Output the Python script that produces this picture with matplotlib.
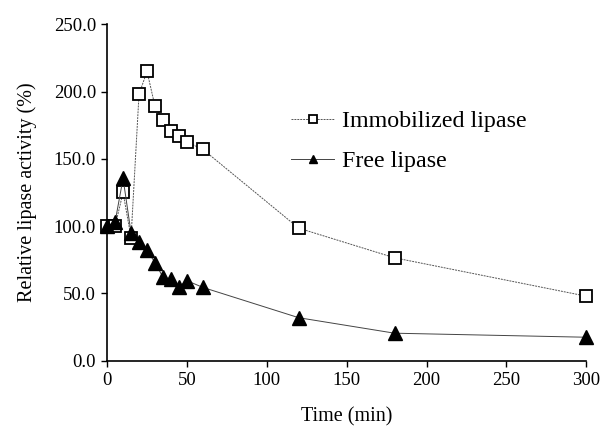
import matplotlib
matplotlib.use("Agg")
from matplotlib import pyplot as plt

time_min = [0, 5, 10, 15, 20, 25, 30, 35, 40, 45, 50, 60, 120, 180, 300]
immobilized = [100, 100, 125, 91.5, 198, 215, 189, 178.5, 171, 167, 162.5, 157, 98.5, 76.5, 48]
free = [100, 103, 135.5, 95, 88, 82, 73, 62, 60.5, 55, 59.5, 54.5, 32, 20.5, 17.5]

y_ticks = [0, 50, 100, 150, 200, 250]
x_ticks = [0, 50, 100, 150, 200, 250, 300]

plt.rcParams["font.family"] = ["Liberation Serif", "DejaVu Serif"]

fig = plt.figure(figsize=(6.05, 4.4), dpi=100)
ax = fig.add_axes([0.177, 0.18, 0.792, 0.765])

ax.plot(time_min, immobilized, color="#555555", linewidth=0.7, linestyle=(0, (2, 1)),
        marker="s", markersize=8.5, markerfacecolor="white", markeredgecolor="black",
        markeredgewidth=1.3, label="Immobilized lipase")
ax.plot(time_min, free, color="#444444", linewidth=0.7,
        marker="^", markersize=10, markerfacecolor="black", markeredgecolor="black",
        label="Free lipase")

ax.set_xlim(0, 300)
ax.set_ylim(0, 250)
ax.set_xticks(x_ticks)
ax.set_yticks(y_ticks)
ax.set_yticklabels([f"{v:.1f}" for v in y_ticks])
ax.tick_params(labelsize=13.5, direction="out", length=4, width=1, pad=4)
for side in ["top", "right"]:
    ax.spines[side].set_visible(False)
for side in ["left", "bottom"]:
    ax.spines[side].set_linewidth(1.2)
for line in ax.lines:
    line.set_clip_on(False)

ax.set_xlabel("Time (min)", fontsize=14.5, labelpad=13)
ax.set_ylabel("Relative lipase activity (%)", fontsize=14.5, labelpad=12)

leg = ax.legend(loc="upper left", bbox_to_anchor=(0.359, 0.78), frameon=False,
                fontsize=17.3, handlelength=1.8, markerscale=0.6, borderpad=0,
                labelspacing=0.75, handletextpad=0.33)

plt.savefig("out.png", dpi=100)
